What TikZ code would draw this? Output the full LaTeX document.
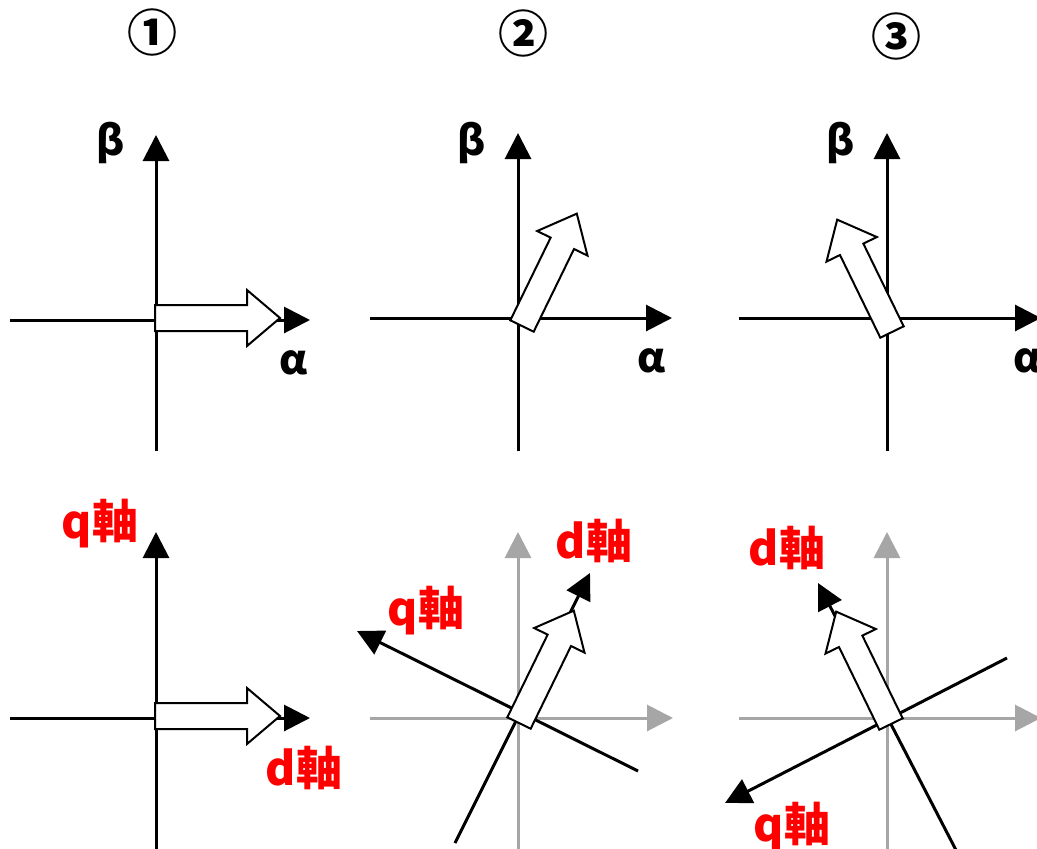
\documentclass[tikz,border=0pt]{standalone}
\usepackage{fontspec}
\setmainfont{Noto Sans CJK JP}
\usetikzlibrary{arrows.meta}
\definecolor{axgray}{HTML}{A6A6A6}
\definecolor{lblred}{HTML}{FF0000}
\newcommand\blockarr[3]{\draw[blk,shift={(#1,#2)},rotate=#3] (0,-13) -- (92,-13) -- (92,-28) -- (125,0) -- (92,28) -- (92,13) -- (0,13) -- cycle;}
\begin{document}
\begin{tikzpicture}[x=1pt,y=-1pt,
  ax/.style={line width=3pt,-{Triangle[length=26pt,width=26pt]}},
  gax/.style={ax,draw=axgray,fill=axgray},
  blk/.style={draw=black,fill=white,line width=2pt,line join=miter},
  greek/.style={font=\bfseries\fontsize{41}{41}\selectfont,inner sep=0pt},
  axlbl/.style={font=\bfseries\fontsize{46}{46}\selectfont,inner sep=0pt,text=lblred},
  num/.style={font=\bfseries\fontsize{50}{50}\selectfont,inner sep=0pt}]
\useasboundingbox (0,0) rectangle (1037,849);
% titles
\node[num] (n1) at (152,32) {①};
\node[num] (n2) at (523,33) {②};
\node[num] (n3) at (896,36) {③};
% ---------- top row ----------
% panel 1
\coordinate (a1L) at (10,320); \coordinate (a1R) at (310,320);
\coordinate (b1B) at (156,451); \coordinate (b1T) at (156,135);
\draw[ax] (a1L) -- (a1R);
\draw[ax] (b1B) -- (b1T);
\blockarr{155}{318}{0}
\node[greek] (beta1) at (111,143) {β};
\node[greek] (alpha1) at (294,363) {α};
% panel 2
\coordinate (a2L) at (370,318); \coordinate (a2R) at (672,318);
\coordinate (b2B) at (518,451); \coordinate (b2T) at (518,133);
\draw[ax] (a2L) -- (a2R);
\draw[ax] (b2B) -- (b2T);
\blockarr{522}{326}{64}
\node[greek] (beta2) at (472,143) {β};
\node[greek] (alpha2) at (652,361) {α};
% panel 3
\coordinate (a3L) at (739,318); \coordinate (a3R) at (1041,318);
\coordinate (b3B) at (887,451); \coordinate (b3T) at (887,133);
\draw[ax] (a3L) -- (a3R);
\draw[ax] (b3B) -- (b3T);
\blockarr{892}{332}{116}
\node[greek] (beta3) at (841,143) {β};
\node[greek] (alpha3) at (1028,361) {α};
% ---------- bottom row ----------
% panel 1
\coordinate (d1L) at (10,718); \coordinate (d1R) at (310,718);
\coordinate (q1B) at (156,852); \coordinate (q1T) at (156,532);
\draw[ax] (d1L) -- (d1R);
\draw[ax] (q1B) -- (q1T);
\blockarr{155}{716}{0}
\node[axlbl] (q1) at (100,524) {q軸};
\node[axlbl] (d1) at (304,768) {d軸};
% panel 2
\coordinate (g2L) at (370,718); \coordinate (g2R) at (673,718);
\coordinate (g2B) at (518,852); \coordinate (g2T) at (518,532);
\draw[gax] (g2L) -- (g2R);
\draw[gax] (g2B) -- (g2T);
\coordinate (d2S) at (455,843); \coordinate (d2E) at (590,573);
\coordinate (q2S) at (638,771); \coordinate (q2E) at (357,631);
\draw[ax] (d2S) -- (d2E);
\draw[ax] (q2S) -- (q2E);
\blockarr{519}{723}{64}
\node[axlbl] (d2) at (594,541) {d軸};
\node[axlbl] (q2) at (426,611) {q軸};
% panel 3
\coordinate (g3L) at (739,718); \coordinate (g3R) at (1041,718);
\coordinate (g3B) at (887,852); \coordinate (g3T) at (887,532);
\draw[gax] (g3L) -- (g3R);
\draw[gax] (g3B) -- (g3T);
\coordinate (d3S) at (957,852); \coordinate (d3E) at (818,583);
\coordinate (q3S) at (1007,658); \coordinate (q3E) at (725,803);
\draw[ax] (d3S) -- (d3E);
\draw[ax] (q3S) -- (q3E);
\blockarr{891}{724}{116}
\node[axlbl] (d3) at (787,548) {d軸};
\node[axlbl] (q3) at (792,827) {q軸};
\end{tikzpicture}
\end{document}
